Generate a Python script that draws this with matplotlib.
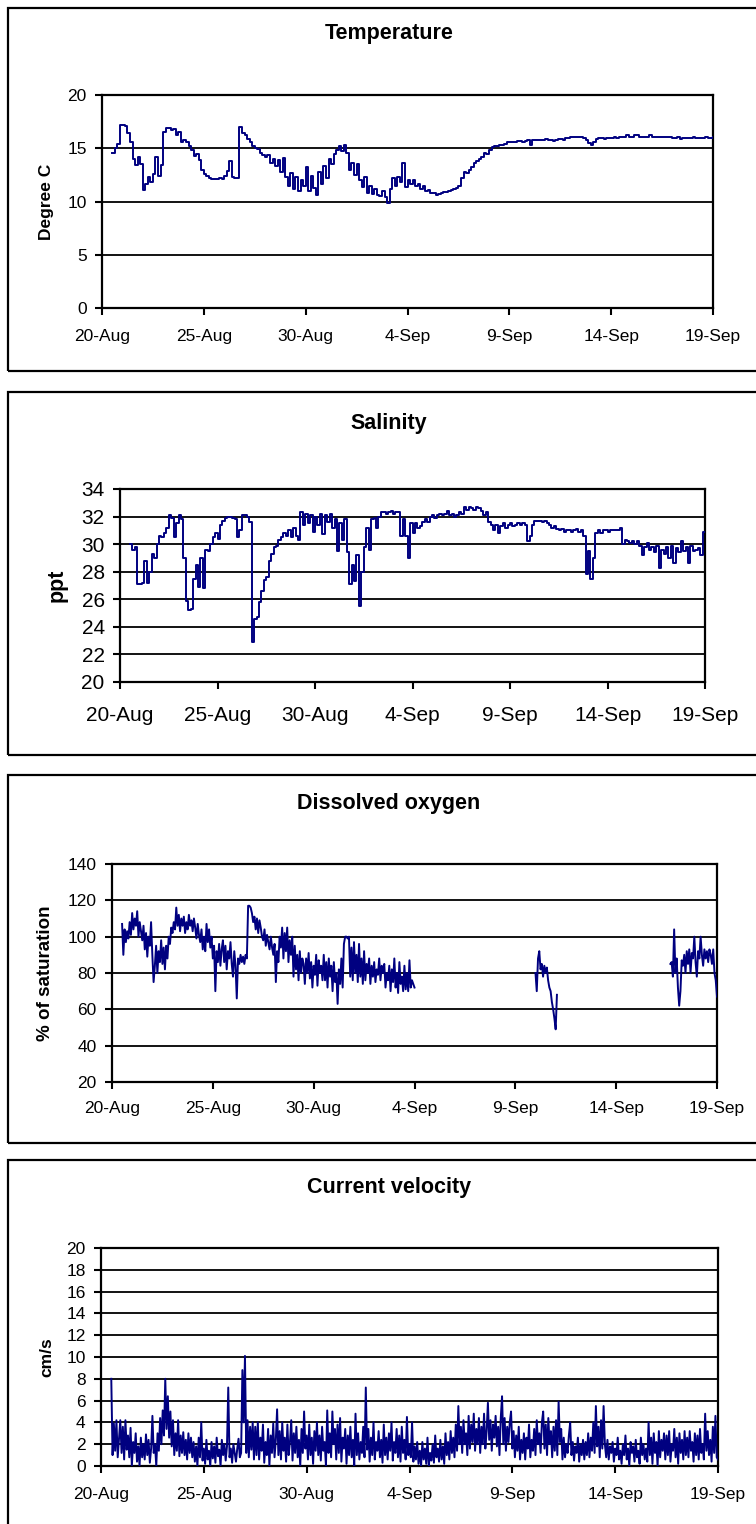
import numpy as np
import matplotlib
matplotlib.use("Agg")
import matplotlib.pyplot as plt
from matplotlib.patches import Rectangle

plt.rcParams["font.family"] = ["Liberation Sans", "DejaVu Sans"]

# ---------------------------------------------------------------------------
# Data.  Day 0 = 20-Aug; every record begins at day 0.5.
# Temperature and salinity: one reading every 3 h (8 per row = 1 day).
# Dissolved oxygen and current velocity: one reading every 1.5 h
# (16 per row = 1 day).  NaN marks periods with no oxygen data.
# ---------------------------------------------------------------------------
start_day = 0.5
step_ts = 0.125
step_dv = 0.0625

tick_days = [0, 5, 10, 15, 20, 25, 30]
tick_labels = ["20-Aug", "25-Aug", "30-Aug", "4-Sep", "9-Sep", "14-Sep", "19-Sep"]

temperature = [
    14.6, 15.0, 15.4, 17.2, 17.2, 17.1, 16.4, 15.6,
    14.0, 13.4, 14.2, 13.5, 11.1, 11.6, 12.3, 11.8,
    12.6, 14.2, 12.4, 13.4, 16.5, 16.9, 16.9, 16.7,
    16.8, 16.2, 16.5, 15.6, 15.8, 15.6, 15.2, 14.8,
    14.3, 14.5, 13.9, 13.0, 12.6, 12.4, 12.2, 12.1,
    12.1, 12.1, 12.2, 12.1, 12.4, 12.9, 13.8, 12.3,
    12.2, 12.2, 17.0, 16.4, 16.2, 15.9, 15.6, 15.2,
    15.0, 14.9, 14.6, 14.4, 14.2, 14.4, 13.6, 14.0,
    13.3, 13.9, 12.8, 14.1, 12.3, 11.5, 12.7, 11.2,
    12.3, 11.0, 12.0, 11.5, 13.2, 11.0, 12.4, 11.3,
    10.6, 12.8, 11.6, 13.3, 12.2, 14.0, 13.5, 14.5,
    14.8, 15.2, 14.7, 15.3, 14.6, 13.0, 13.6, 12.5,
    13.5, 12.0, 11.4, 12.3, 10.8, 11.5, 10.7, 11.2,
    10.6, 10.5, 11.0, 10.4, 9.9, 11.2, 12.2, 11.5,
    12.3, 11.8, 13.6, 11.4, 12.0, 11.6, 12.0, 11.5,
    11.6, 11.2, 11.5, 11.0, 11.1, 10.8, 10.8, 10.6,
    10.7, 10.8, 10.9, 10.9, 11.0, 11.1, 11.2, 11.3,
    11.5, 12.2, 12.8, 12.7, 13.0, 13.2, 13.6, 13.8,
    14.0, 14.2, 14.6, 14.5, 14.8, 15.1, 15.2, 15.2,
    15.3, 15.3, 15.4, 15.6, 15.6, 15.6, 15.6, 15.7,
    15.7, 15.6, 15.7, 15.8, 15.3, 15.8, 15.8, 15.8,
    15.8, 15.8, 15.9, 15.8, 15.8, 15.7, 15.8, 15.9,
    15.9, 15.8, 16.0, 16.0, 16.1, 16.1, 16.1, 16.1,
    16.1, 16.0, 15.8, 15.5, 15.3, 15.6, 15.9, 16.0,
    16.0, 15.9, 16.0, 16.0, 16.0, 16.1, 16.0, 16.1,
    16.1, 16.1, 16.2, 16.1, 16.1, 16.2, 16.2, 16.1,
    16.1, 16.1, 16.1, 16.2, 16.1, 16.1, 16.1, 16.1,
    16.1, 16.1, 16.1, 16.1, 16.0, 16.0, 16.1, 15.9,
    16.0, 16.0, 16.0, 16.0, 16.1, 16.0, 16.0, 16.0,
    16.0, 16.1, 16.0, 16.0, 16.1,
]

salinity = [
    30.0, 29.6, 29.8, 27.1, 27.1, 27.2, 28.8, 27.2,
    28.0, 29.3, 29.0, 30.0, 30.6, 30.5, 30.8, 31.2,
    32.1, 31.9, 30.5, 31.5, 32.1, 31.8, 29.0, 25.9,
    25.2, 25.3, 27.5, 28.5, 26.9, 29.0, 26.8, 29.6,
    29.5, 30.0, 30.5, 30.8, 30.4, 31.4, 31.7, 31.9,
    32.0, 32.0, 31.9, 31.8, 30.5, 31.0, 32.1, 32.1,
    32.0, 31.6, 22.9, 24.6, 24.7, 25.8, 26.6, 27.4,
    27.6, 28.8, 29.3, 29.8, 29.9, 30.3, 30.5, 30.8,
    30.6, 31.0, 30.5, 31.2, 30.6, 30.3, 32.3, 31.4,
    32.2, 31.5, 32.1, 30.9, 32.0, 31.4, 32.2, 30.7,
    32.1, 31.6, 32.2, 31.2, 31.8, 29.5, 31.5, 30.3,
    31.8, 29.4, 27.1, 28.5, 27.3, 29.2, 25.5, 28.0,
    29.8, 31.2, 29.6, 31.8, 31.9, 31.2, 32.0, 32.3,
    32.3, 32.2, 32.3, 32.4, 32.2, 32.3, 32.3, 30.6,
    31.8, 30.6, 29.0, 31.5, 30.8, 31.5, 31.2, 31.3,
    31.6, 31.8, 31.6, 32.0, 32.1, 31.9, 32.1, 32.2,
    32.1, 32.2, 32.4, 32.1, 32.2, 32.0, 32.1, 32.3,
    32.2, 32.7, 32.5, 32.7, 32.6, 32.5, 32.7, 32.6,
    32.4, 32.1, 32.3, 31.6, 31.4, 31.0, 31.4, 30.8,
    31.3, 31.5, 31.2, 31.4, 31.5, 31.3, 31.4, 31.5,
    31.4, 31.5, 31.4, 30.2, 30.6, 31.4, 31.7, 31.7,
    31.7, 31.6, 31.7, 31.5, 31.4, 31.2, 31.3, 31.1,
    31.0, 31.1, 30.9, 31.0, 31.0, 30.9, 31.0, 31.1,
    30.9, 31.0, 30.6, 27.8, 29.5, 27.5, 29.0, 30.8,
    31.0, 30.8, 31.0, 31.0, 30.9, 31.0, 31.0, 31.0,
    31.0, 31.2, 30.0, 30.3, 30.2, 30.1, 30.2, 30.0,
    30.2, 29.9, 29.2, 29.8, 30.1, 29.6, 29.8, 29.4,
    29.9, 28.3, 29.6, 29.3, 29.8, 29.0, 29.9, 28.6,
    29.7, 29.4, 30.2, 29.5, 29.8, 28.6, 29.9, 29.5,
    29.6, 29.7, 29.2, 30.9, 30.9,
]

nan = float("nan")
oxygen = [
    107, 90, 104, 97, 103, 99, 108, 101, 113, 104, 110, 106, 114, 100, 108, 103,
    98, 106, 93, 102, 89, 100, 95, 108, 90, 75, 84, 95, 80, 92, 86, 98,
    85, 94, 82, 95, 88, 100, 96, 105, 102, 108, 104, 116, 106, 112, 103, 110,
    106, 111, 102, 108, 104, 112, 106, 109, 103, 110, 105, 99, 107, 101, 97, 104,
    93, 100, 92, 107, 97, 104, 94, 100, 88, 95, 70, 92, 86, 96, 84, 93,
    98, 86, 95, 82, 92, 88, 97, 85, 78, 92, 84, 66, 88, 85, 90, 86,
    89, 85, 90, 88, 117, 117, 116, 113, 108, 111, 104, 110, 102, 109, 105, 100,
    98, 104, 95, 101, 97, 93, 100, 94, 90, 96, 75, 92, 86, 100, 94, 105,
    88, 102, 92, 105, 86, 98, 90, 100, 78, 95, 82, 90, 76, 92, 80, 88,
    85, 74, 88, 80, 91, 77, 86, 72, 84, 79, 90, 73, 87, 80, 84, 76,
    90, 76, 86, 72, 88, 78, 84, 70, 86, 75, 80, 63, 82, 74, 88, 72,
    96, 100, 100, 99, 100, 78, 94, 76, 97, 80, 90, 75, 96, 78, 88, 74,
    92, 76, 85, 80, 88, 74, 84, 78, 86, 75, 82, 79, 88, 76, 84, 80,
    85, 72, 80, 76, 84, 70, 82, 75, 88, 72, 80, 69, 86, 74, 78, 70,
    84, 71, 80, 70, 87, 72, 76, 74, 72, nan, nan, nan, nan, nan, nan, nan,
    nan, nan, nan, nan, nan, nan, nan, nan, nan, nan, nan, nan, nan, nan, nan, nan,
    nan, nan, nan, nan, nan, nan, nan, nan, nan, nan, nan, nan, nan, nan, nan, nan,
    nan, nan, nan, nan, nan, nan, nan, nan, nan, nan, nan, nan, nan, nan, nan, nan,
    nan, nan, nan, nan, nan, nan, nan, nan, nan, nan, nan, nan, nan, nan, nan, nan,
    nan, nan, nan, nan, nan, nan, nan, nan, nan, nan, nan, nan, nan, nan, nan, nan,
    nan, nan, nan, nan, nan, nan, nan, nan, 80, 70, 88, 92, 82, 85, 78, 84,
    80, 83, 76, 72, 70, 64, 60, 55, 49, 68, nan, nan, nan, nan, nan, nan,
    nan, nan, nan, nan, nan, nan, nan, nan, nan, nan, nan, nan, nan, nan, nan, nan,
    nan, nan, nan, nan, nan, nan, nan, nan, nan, nan, nan, nan, nan, nan, nan, nan,
    nan, nan, nan, nan, nan, nan, nan, nan, nan, nan, nan, nan, nan, nan, nan, nan,
    nan, nan, nan, nan, nan, nan, nan, nan, nan, nan, nan, nan, nan, nan, nan, nan,
    nan, nan, nan, nan, nan, nan, nan, nan, nan, nan, nan, nan, nan, nan, nan, nan,
    nan, nan, nan, 85, 86, 78, 104, 80, 88, 72, 62, 70, 87, 84, 90, 80,
    92, 85, 93, 80, 91, 88, 100, 86, 78, 92, 88, 100, 90, 84, 93, 88,
    92, 86, 93, 90, 85, 93, 80, 76, 67,
]

velocity = [
    8.0, 1.0, 3.9, 1.4, 4.2, 0.8, 2.5, 4.2, 1.2, 3.6, 0.6, 4.2, 1.5, 2.8, 0.8, 3.5,
    0.0, 2.2, 1.2, 3.0, 0.4, 1.8, 0.0, 2.6, 0.8, 2.0, 0.6, 2.9, 1.0, 2.4, 0.3, 1.6,
    4.6, 1.2, 2.0, 0.0, 3.0, 1.4, 4.4, 2.0, 5.1, 2.8, 8.0, 3.4, 6.4, 2.6, 5.0, 1.8,
    4.2, 1.0, 3.0, 1.4, 4.2, 0.9, 2.8, 1.2, 3.1, 1.0, 2.4, 0.6, 3.0, 1.2, 2.6, 0.8,
    2.2, 0.4, 1.8, 0.0, 2.6, 0.8, 4.0, 0.5, 1.6, 0.2, 2.4, 0.6, 1.4, 0.0, 2.2, 0.7,
    1.8, 0.3, 2.6, 0.9, 1.5, 0.0, 2.4, 1.0, 2.0, 0.5, 1.8, 7.2, 0.8, 1.6, 0.3, 2.0,
    1.2, 0.4, 1.6, 2.5, 0.8, 1.2, 8.8, 4.0, 10.1, 1.2, 4.2, 0.8, 3.6, 1.5, 4.0, 0.6,
    3.6, 1.0, 4.0, 0.6, 2.6, 1.4, 3.8, 0.3, 2.2, 1.0, 3.4, 0.0, 2.8, 1.2, 3.9, 0.8,
    2.4, 5.2, 1.0, 3.2, 0.6, 4.0, 1.4, 2.6, 0.4, 3.8, 1.0, 2.2, 4.2, 0.5, 3.0, 1.2,
    3.6, 0.8, 2.4, 0.0, 3.4, 1.2, 5.0, 1.6, 2.8, 0.6, 3.8, 1.0, 2.6, 0.2, 3.2, 1.4,
    4.0, 1.0, 2.8, 0.5, 3.6, 1.4, 2.2, 0.0, 5.1, 1.2, 3.0, 0.8, 5.0, 2.0, 3.4, 0.6,
    3.8, 1.2, 4.4, 0.4, 2.6, 1.6, 3.4, 0.2, 2.8, 1.0, 3.6, 0.8, 2.4, 0.0, 4.8, 1.0,
    3.0, 0.6, 2.2, 1.2, 3.6, 0.8, 7.2, 1.5, 3.4, 0.4, 2.6, 1.0, 4.0, 0.6, 2.2, 1.4,
    3.2, 0.8, 2.4, 0.3, 3.8, 1.0, 2.6, 0.6, 3.0, 1.4, 4.0, 0.5, 2.2, 1.2, 3.4, 0.8,
    2.8, 0.4, 3.6, 1.2, 2.4, 0.6, 4.5, 1.0, 2.0, 0.8, 4.0, 0.4, 1.8, 0.6, 2.2, 0.2,
    1.4, 0.0, 2.2, 0.6, 1.6, 0.2, 2.6, 0.0, 1.2, 0.5, 2.0, 0.3, 2.8, 0.8, 1.6, 0.4,
    2.4, 0.6, 1.8, 0.2, 3.0, 1.0, 2.2, 0.6, 3.2, 1.2, 2.6, 0.8, 3.8, 1.4, 5.5, 2.0,
    3.6, 1.2, 4.2, 2.0, 3.0, 1.0, 4.6, 1.6, 3.8, 2.2, 4.8, 1.4, 3.4, 2.0, 4.4, 1.2,
    3.6, 2.0, 4.8, 1.6, 3.2, 5.8, 2.4, 4.2, 1.4, 3.8, 2.6, 4.6, 1.8, 3.6, 1.0, 4.4,
    6.4, 2.0, 4.4, 1.4, 3.6, 2.2, 4.0, 5.0, 1.6, 3.2, 0.8, 2.8, 1.4, 3.6, 0.6, 2.4,
    1.2, 3.0, 0.6, 2.6, 1.6, 3.8, 0.8, 2.4, 1.4, 3.4, 1.0, 4.2, 2.0, 3.0, 1.2, 4.0,
    5.0, 1.6, 3.8, 1.0, 4.4, 2.0, 3.2, 0.8, 3.6, 1.4, 4.2, 1.0, 5.9, 2.2, 3.4, 0.6,
    2.6, 0.8, 2.0, 1.2, 2.8, 4.0, 1.0, 2.2, 0.5, 1.8, 1.2, 2.6, 0.4, 2.0, 1.0, 2.4,
    0.6, 2.2, 1.0, 3.0, 0.8, 2.6, 1.4, 4.0, 1.2, 5.5, 1.8, 3.6, 0.8, 4.2, 1.6, 5.5,
    2.0, 0.8, 2.4, 0.6, 1.8, 1.2, 2.2, 0.4, 1.6, 1.0, 2.6, 0.6, 1.4, 0.2, 2.0, 1.0,
    2.8, 0.6, 1.6, 0.0, 2.2, 1.2, 1.8, 0.4, 2.4, 0.8, 1.4, 0.2, 2.6, 1.0, 2.0, 0.6,
    1.6, 0.4, 4.0, 1.0, 2.6, 0.2, 3.0, 1.2, 2.2, 0.0, 3.2, 0.8, 2.4, 1.4, 3.0, 0.6,
    2.8, 1.0, 3.2, 0.4, 2.0, 1.4, 3.4, 0.8, 2.6, 0.2, 3.0, 1.2, 2.4, 0.6, 3.2, 1.0,
    2.6, 0.8, 3.2, 1.4, 2.2, 0.4, 3.0, 1.0, 2.8, 0.6, 3.4, 1.2, 2.0, 0.6, 4.8, 1.4,
    3.2, 1.0, 2.4, 0.4, 3.6, 1.2, 4.6, 0.8, 0.6,
]

# ---------------------------------------------------------------------------
# Layout (pixel geometry of a 756 x 1524 canvas)
# ---------------------------------------------------------------------------
W, H = 756, 1524
LINE_COLOR = "#000080"

panels = [
    dict(series=temperature, step=step_ts, drawstyle="steps-post",
         title="Temperature", ylabel="Degree C",
         ylim=(0, 20), ystep=5, box=(8, 8, 371), plot=(102, 713, 95, 308),
         title_y=33, ylabel_x=46, tick_fs=12.5, ylabel_fs=12.5, xpad=10),
    dict(series=salinity, step=step_ts, drawstyle="steps-post",
         title="Salinity", ylabel="ppt",
         ylim=(20, 34), ystep=2, box=(8, 392, 755), plot=(120, 705, 489, 682),
         title_y=423, ylabel_x=57, tick_fs=15, ylabel_fs=15.5, xpad=12),
    dict(series=oxygen, step=step_dv, drawstyle="default",
         title="Dissolved oxygen", ylabel="% of saturation",
         ylim=(20, 140), ystep=20, box=(8, 775, 1143), plot=(112, 717, 864, 1082),
         title_y=803, ylabel_x=46, tick_fs=12.5, ylabel_fs=13.5, xpad=9),
    dict(series=velocity, step=step_dv, drawstyle="default",
         title="Current velocity", ylabel="cm/s",
         ylim=(0, 20), ystep=2, box=(8, 1160, 1540), plot=(101, 718, 1248, 1466),
         title_y=1187, ylabel_x=47, tick_fs=12.5, ylabel_fs=12.5, xpad=10),
]

fig = plt.figure(figsize=(W / 100, H / 100), dpi=100)
fig.patch.set_facecolor("white")

for p in panels:
    values = np.asarray(p["series"], dtype=float)
    days = start_day + p["step"] * np.arange(len(values))

    # outer frame of the chart
    bx, btop, bbot = p["box"]
    fig.add_artist(Rectangle((bx / W, 1 - bbot / H), (775 - bx) / W, (bbot - btop) / H,
                             transform=fig.transFigure, fill=False,
                             edgecolor="black", linewidth=1.6, zorder=0))

    left, right, top, bottom = p["plot"]
    ax = fig.add_axes([left / W, 1 - bottom / H, (right - left) / W, (bottom - top) / H])
    ax.plot(days, values, color=LINE_COLOR, linewidth=1.4,
            drawstyle=p["drawstyle"], zorder=3)

    y0, y1 = p["ylim"]
    ax.set_ylim(y0, y1)
    ax.set_xlim(tick_days[0], tick_days[-1])
    yt = np.arange(y0, y1 + 0.001, p["ystep"])
    ax.set_yticks(yt)
    ax.set_yticklabels([f"{v:g}" for v in yt])
    ax.set_xticks(tick_days)
    ax.set_xticklabels(tick_labels)
    for v in yt[1:-1]:
        ax.axhline(v, color="black", linewidth=1.3, zorder=1)

    for s in ax.spines.values():
        s.set_linewidth(1.6)
        s.set_color("black")
    ax.tick_params(axis="both", direction="out", length=5, width=1.5,
                   color="black", labelsize=p["tick_fs"])
    ax.tick_params(axis="x", pad=p["xpad"])
    ax.tick_params(axis="y", pad=6)

    fig.text(389 / W, 1 - p["title_y"] / H, p["title"], ha="center", va="center",
             fontsize=15.5, fontweight="bold")
    fig.text(p["ylabel_x"] / W, 1 - ((top + bottom) / 2) / H, p["ylabel"],
             rotation=90, ha="center", va="center",
             fontsize=p["ylabel_fs"], fontweight="bold")

fig.savefig("out.png", dpi=100)
